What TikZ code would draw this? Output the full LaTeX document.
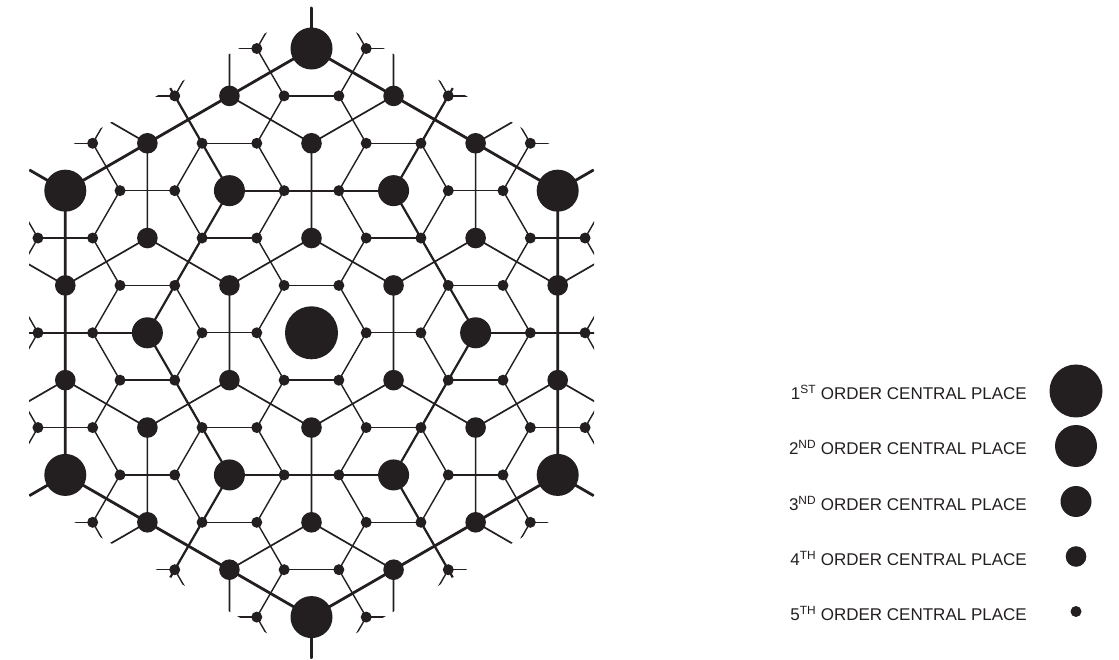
\documentclass[tikz,border=0pt]{standalone}
\usepackage{fontspec}
\setmainfont{Liberation Sans}
\definecolor{ink}{HTML}{231F20}
% integer modulo (odd modulus), result in 0..m-1
\newcommand\imod[2]{\the\numexpr (#1) - (#2)*(((#1) - ((#2)-1)/2)/(#2))\relax}
% order of the central place at lattice point (a,b)
\newcommand\getclass[2]{%
  \ifnum\imod{(#1)-(#2)}{3}=0
    \ifnum\imod{#1}{3}=0
      \ifnum\imod{(#1)-(#2)}{9}=0
        \ifnum\numexpr\imod{#1}{9}+\imod{#2}{9}\relax=0 \def\cls{1}\else\def\cls{2}\fi
      \else\def\cls{3}\fi
    \else\def\cls{4}\fi
  \else\def\cls{5}\fi}
\begin{document}
\begin{tikzpicture}[x=1pt,y=1pt,
  l5/.style={draw=ink, line width=1.4pt},
  l4/.style={draw=ink, line width=1.7pt},
  l3/.style={draw=ink, line width=2.2pt},
  l2/.style={draw=ink, line width=2.8pt},
  dotbase/.style={circle, fill=ink, draw=none, inner sep=0pt},
  dot1/.style={dotbase, minimum size=53pt},
  dot2/.style={dotbase, minimum size=42pt},
  dot3/.style={dotbase, minimum size=31pt},
  dot4/.style={dotbase, minimum size=20.6pt},
  dot5/.style={dotbase, minimum size=11pt},
  lbl/.style={anchor=base east, inner sep=0pt, text=ink, font=\fontsize{17}{17}\selectfont}]
\useasboundingbox (0,0) rectangle (1119,659);
\begin{scope}
  \clip (311.5,652.4) -- (594,489.3) -- (594,163.1) -- (311.5,0) -- (29,163.1) -- (29,489.3) -- cycle;
  \begin{scope}[shift={(311.5pt,326.2pt)}, x={(54.71pt,0pt)}, y={(27.355pt,47.38pt)}]
    % 5th order market areas
    \foreach \a in {-9,...,9}{\foreach \b in {-9,...,9}{%
      \getclass{\a}{\b}%
      \ifnum\cls=5
        \getclass{\a+1}{\b}\ifnum\cls=5 \draw[l5] (\a,\b) -- (\a+1,\b);\fi
        \getclass{\a}{\b+1}\ifnum\cls=5 \draw[l5] (\a,\b) -- (\a,\b+1);\fi
        \getclass{\a-1}{\b+1}\ifnum\cls=5 \draw[l5] (\a,\b) -- (\a-1,\b+1);\fi
      \fi}}
    % 4th order market areas
    \foreach \a in {-10,...,10}{\foreach \b in {-10,...,10}{%
      \getclass{\a}{\b}%
      \ifnum\cls=4
        \getclass{\a+1}{\b+1}\ifnum\cls=4 \draw[l4] (\a,\b) -- (\a+1,\b+1);\fi
        \getclass{\a-1}{\b+2}\ifnum\cls=4 \draw[l4] (\a,\b) -- (\a-1,\b+2);\fi
        \getclass{\a-2}{\b+1}\ifnum\cls=4 \draw[l4] (\a,\b) -- (\a-2,\b+1);\fi
      \fi}}
    % 3rd order market areas
    \foreach \a in {-12,-9,...,12}{\foreach \b in {-12,-9,...,12}{%
      \getclass{\a}{\b}%
      \ifnum\cls=3
        \getclass{\a+3}{\b}\ifnum\cls=3 \draw[l3] (\a,\b) -- (\a+3,\b);\fi
        \getclass{\a}{\b+3}\ifnum\cls=3 \draw[l3] (\a,\b) -- (\a,\b+3);\fi
        \getclass{\a-3}{\b+3}\ifnum\cls=3 \draw[l3] (\a,\b) -- (\a-3,\b+3);\fi
      \fi}}
    % 2nd order market areas
    \foreach \a in {-15,-12,...,15}{\foreach \b in {-15,-12,...,15}{%
      \getclass{\a}{\b}%
      \ifnum\cls=2
        \getclass{\a+3}{\b+3}\ifnum\cls=2 \draw[l2] (\a,\b) -- (\a+3,\b+3);\fi
        \getclass{\a-3}{\b+6}\ifnum\cls=2 \draw[l2] (\a,\b) -- (\a-3,\b+6);\fi
        \getclass{\a-6}{\b+3}\ifnum\cls=2 \draw[l2] (\a,\b) -- (\a-6,\b+3);\fi
      \fi}}
  \end{scope}
\end{scope}
% central places
\begin{scope}[shift={(311.5pt,326.2pt)}, x={(54.71pt,0pt)}, y={(27.355pt,47.38pt)}]
  \foreach \a in {-8,...,8}{\foreach \b in {-8,...,8}{%
    \pgfmathsetmacro\dx{54.71*(\a+0.5*\b)}%
    \pgfmathsetmacro\dy{47.38*\b}%
    \pgfmathtruncatemacro\ins{(abs(\dx)<282.5)*(0.5*abs(\dx)+0.866*abs(\dy)<282.5)}%
    \ifnum\ins=1
      \getclass{\a}{\b}%
      \node[dot\cls] (d\a x\b) at (\a,\b) {};
    \fi}}
\end{scope}
% legend
\foreach \i/\sx/\yy in {1/ST/391, 2/ND/446, 3/ND/501.5, 4/TH/556.5, 5/TH/611.5}{%
  \node[lbl] (t\i) at (1027,{659-\yy-9}) {\i\textsuperscript{\sx} ORDER CENTRAL PLACE};
  \node[dot\i] (k\i) at (1076,{659-\yy}) {};
}
\end{tikzpicture}
\end{document}
